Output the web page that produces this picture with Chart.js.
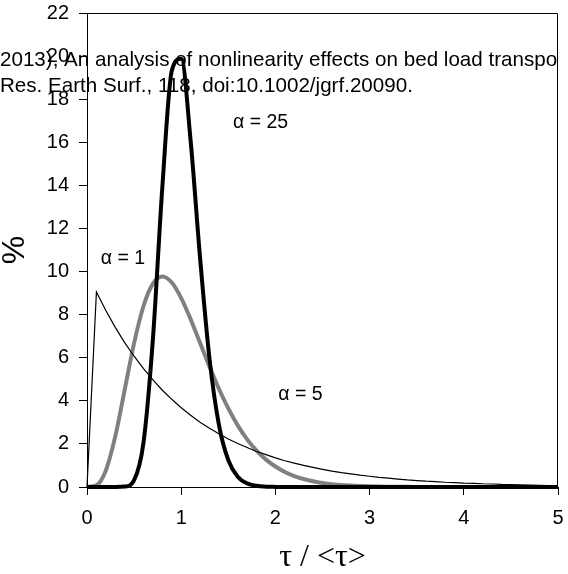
<!DOCTYPE html>
<html>
<head>
<meta charset="utf-8">
<script src="https://cdn.jsdelivr.net/npm/chart.js@4"></script>
<style>
html,body{margin:0;padding:0;background:#fff;}
canvas{display:block;}
</style>
</head>
<body>
<canvas id="c" width="568" height="574"></canvas>
<script>
// ---- data ----
const tau = [0,0.1,0.2,0.3,0.4,0.5,0.6,0.7,0.8,0.9,1.0,1.1,1.2,1.3,1.4,1.5,1.6,1.7,1.8,1.9,2.0,
  2.1,2.2,2.3,2.4,2.5,2.6,2.7,2.8,2.9,3.0,3.1,3.2,3.3,3.4,3.5,3.6,3.7,3.8,3.9,4.0,
  4.1,4.2,4.3,4.4,4.5,4.6,4.7,4.8,4.9,5.0];
const alpha1 = [0,9.05,8.19,7.41,6.70,6.07,5.49,4.97,4.49,4.07,3.68,3.33,3.01,2.73,2.47,2.23,2.02,1.83,1.65,1.50,1.35,
  1.22,1.11,1.00,0.91,0.82,0.74,0.67,0.61,0.55,0.50,0.45,0.41,0.37,0.33,0.30,0.27,0.25,0.22,0.20,0.18,
  0.17,0.15,0.14,0.12,0.11,0.10,0.09,0.08,0.07,0.07];
const alpha5 = [0,0.08,0.77,2.35,4.51,6.68,8.40,9.44,9.77,9.49,8.77,7.79,6.69,5.59,4.56,3.65,2.86,2.21,1.69,1.27,0.95,
  0.70,0.51,0.37,0.27,0.19,0.13,0.09,0.07,0.05,0.03,0.02,0.015,0.01,0.007,0.005,0.003,0.002,0.0015,0.001,0.0007,
  0.0005,0.0003,0.0002,0.0001,0.0001,0,0,0,0,0];
const alpha25 = [0,0,0,0.0002,0.018,0.318,2.07,6.89,13.93,19.32,19.88,16.07,10.65,5.97,2.90,1.25,0.48,0.17,0.055,0.017,0.005,
  0.001,0,0,0,0,0,0,0,0,0,0,0,0,0,0,0,0,0,0,0,
  0,0,0,0,0,0,0,0,0,0];
const xTicks = [0,1,2,3,4,5];
const yTicks = [0,2,4,6,8,10,12,14,16,18,20,22];
const labelTexts = ['α = 25','α = 1','α = 5'];
const labelX = [1.55,0.146,2.03];
const labelY = [16.9,10.58,4.27];
const xTitle = 'τ / <τ>';
const yTitle = '%';
const noteLines = ['2013), An analysis of nonlinearity effects on bed load transport: Prediction uncertainties, J. Geophys.',
  'Res. Earth Surf., 118, doi:10.1002/jgrf.20090.'];

const pts = ys => tau.map((x,i)=>({x:x,y:ys[i]}));
const SANS = '"Liberation Sans", Arial, sans-serif';
const SERIF = '"Liberation Serif", "Times New Roman", serif';
const noPad = s => { s.paddingLeft = 0; s.paddingRight = 0; s.paddingTop = 0; s.paddingBottom = 0; };

const extras = {
  id:'extras',
  afterDraw(chart){
    const ctx = chart.ctx, a = chart.chartArea, sx = chart.scales.x, sy = chart.scales.y;
    ctx.save();
    // top & right frame
    ctx.strokeStyle = '#000'; ctx.lineWidth = 1;
    ctx.beginPath();
    ctx.moveTo(Math.round(a.left)+0.5, Math.round(a.top)+0.5);
    ctx.lineTo(Math.round(a.right)-0.5, Math.round(a.top)+0.5);
    ctx.lineTo(Math.round(a.right)-0.5, Math.round(a.bottom)+0.5);
    ctx.stroke();
    // curve labels
    ctx.fillStyle = '#000';
    ctx.font = '19.5px ' + SANS;
    ctx.textAlign = 'left'; ctx.textBaseline = 'middle';
    labelTexts.forEach((t,i)=>ctx.fillText(t, sx.getPixelForValue(labelX[i]), sy.getPixelForValue(labelY[i])));
    // axis titles
    ctx.font = '32px ' + SERIF;
    ctx.textAlign = 'center'; ctx.textBaseline = 'middle';
    ctx.fillText(xTitle, (a.left+a.right)/2, 558);
    ctx.save();
    ctx.translate(15.5, (a.top+a.bottom)/2);
    ctx.rotate(-Math.PI/2);
    ctx.font = '32px ' + SANS;
    ctx.fillText(yTitle, 0, 0);
    ctx.restore();
    // overlaid citation text, clipped at plot right edge
    ctx.beginPath();
    ctx.rect(0, 0, Math.round(a.right), chart.height);
    ctx.clip();
    ctx.font = '20.6px ' + SANS;
    ctx.textAlign = 'left'; ctx.textBaseline = 'alphabetic';
    ctx.fillText(noteLines[0], 0, 66);
    ctx.fillText(noteLines[1], 0, 91.5);
    ctx.restore();
  }
};

new Chart(document.getElementById('c'), {
  type:'line',
  data:{
    datasets:[
      {label:'α = 1', data:pts(alpha1), borderColor:'#000', borderWidth:1.2, tension:0, pointRadius:0, clip:6},
      {label:'α = 25', data:pts(alpha25), borderColor:'#000', borderWidth:4, cubicInterpolationMode:'monotone', pointRadius:0, clip:6},
      {label:'α = 5', data:pts(alpha5), borderColor:'#808080', borderWidth:4, cubicInterpolationMode:'monotone', pointRadius:0, clip:6}
    ]
  },
  options:{
    responsive:false, animation:false, devicePixelRatio:1,
    layout:{padding:{top:13,right:10,left:0,bottom:0}},
    plugins:{legend:{display:false}, tooltip:{enabled:false}},
    scales:{
      x:{type:'linear', min:0, max:5,
        afterBuildTicks(s){ s.ticks = xTicks.map(v=>({value:v})); },
        ticks:{font:{family:SANS,size:20}, color:'#000', padding:11, maxRotation:0, autoSkip:false},
        grid:{drawOnChartArea:false, drawTicks:true, tickLength:8, color:'#000'},
        border:{display:true, color:'#000'},
        afterFit(s){ s.height = 87; noPad(s); }
      },
      y:{type:'linear', min:0, max:22,
        afterBuildTicks(s){ s.ticks = yTicks.map(v=>({value:v})); },
        ticks:{font:{family:SANS,size:20}, color:'#000', padding:10, autoSkip:false},
        grid:{drawOnChartArea:false, drawTicks:true, tickLength:8, color:'#000'},
        border:{display:true, color:'#000'},
        afterFit(s){ s.width = 87; noPad(s); }
      }
    }
  },
  plugins:[extras]
});
</script>
</body>
</html>
